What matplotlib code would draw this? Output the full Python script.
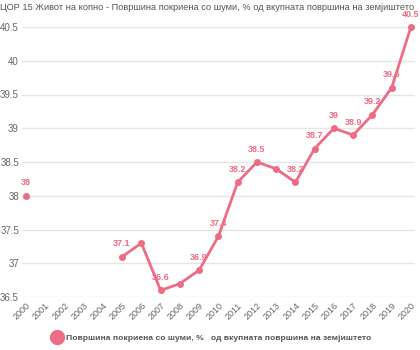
import matplotlib
matplotlib.use("Agg")
import matplotlib.pyplot as plt
from matplotlib.lines import Line2D
import numpy as np

years = list(range(2000, 2021))
forest = [38.0, None, None, None, None, 37.1, 37.3, 36.6, 36.7, 36.9, 37.4,
          38.2, 38.5, 38.4, 38.2, 38.7, 39.0, 38.9, 39.2, 39.6, 40.5]
# points whose value label is hidden (overlaps)
hidden = [2006, 2008, 2013]

title = "ЦОР 15 Живот на копно - Површина покриена со шуми, % од вкупната површина на земјиштето"
series_name = "Површина покриена со шуми, %   од вкупната површина на земјиштето"

pink = "#ee6c86"
plt.rcParams['font.family'] = ['Liberation Sans', 'DejaVu Sans']

fig = plt.figure(figsize=(4.2, 3.5), dpi=100)
ax = fig.add_axes([0.052, 0.151, 0.936, 0.772])

y = np.array([np.nan if v is None else v for v in forest])
ax.plot(years, y, color=pink, lw=2, marker="o", ms=4, clip_on=False, zorder=3)

for yr, v in zip(years, forest):
    if v is None or yr in hidden:
        continue
    ax.annotate(f"{v:g}", (yr, v), xytext=(0, 6), textcoords="offset points",
                ha="center", va="bottom", fontsize=6.5, color=pink,
                fontweight="bold", annotation_clip=False)

ax.set_xlim(1999.79, 2020.21)
ax.set_ylim(36.5, 40.5)
ax.set_yticks([36.5, 37, 37.5, 38, 38.5, 39, 39.5, 40, 40.5])
ax.set_yticklabels(["36.5", "37", "37.5", "38", "38.5", "39", "39.5", "40", "40.5"])
ax.set_xticks(years)
ax.set_xticklabels([str(v) for v in years], rotation=45, ha="right",
                   rotation_mode="anchor", fontsize=6.5, color="#666666")
ax.tick_params(axis="y", labelsize=7, colors="#666666", length=0, pad=2)
ax.tick_params(axis="x", length=0, pad=3)
ax.grid(axis="y", color="#e6e6e6", lw=1)
ax.set_axisbelow(True)
for s in ax.spines.values():
    s.set_visible(False)

fig.text(0.0, 0.98, title, fontsize=6.7, color="#555555", ha="left", va="center")

h = Line2D([], [], color=pink, marker="o", ms=10, lw=0)
fig.legend([h], [series_name], loc="center", bbox_to_anchor=(0.5, 0.035),
           frameon=False, handletextpad=0.1,
           prop={"size": 6.1, "weight": "bold"}, labelcolor="#555555")

fig.savefig("out.png", dpi=100)
